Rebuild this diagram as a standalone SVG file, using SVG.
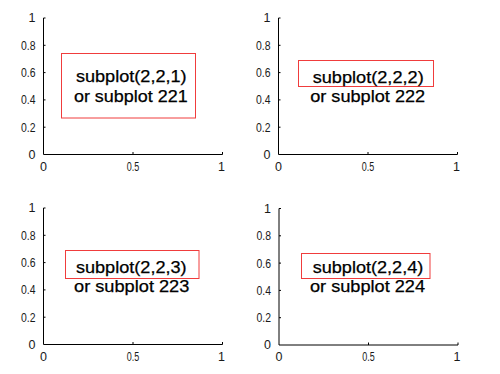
<svg xmlns="http://www.w3.org/2000/svg" width="500" height="374" viewBox="0 0 500 374">
<style>
.ax{fill:none;stroke:#000;stroke-width:1}
.tk{font-family:"Liberation Sans",Arial,sans-serif;font-size:12.5px;fill:#1a1a1a}
.yl{text-anchor:end}
.xl{text-anchor:middle}
.box{fill:none;stroke:#f03c3c;stroke-width:1}
.lb{font-family:"Liberation Sans",Arial,sans-serif;font-size:16px;fill:#000;stroke:#000;stroke-width:0.25;text-anchor:middle}
</style>
<defs>
<g id="axes">
<path class="ax" d="M0,-136.5V0H179"/>
<path class="ax" d="M0,-27.3h2M0,-54.6h2M0,-81.9h2M0,-109.2h2M0,-136.5h2M89.5,0v-2.5M179,0v-2.5"/>
<text class="tk yl" x="-8" y="4.4">0</text>
<text class="tk yl" x="-8" y="-22.9" textLength="14.5" lengthAdjust="spacingAndGlyphs">0.2</text>
<text class="tk yl" x="-8" y="-50.2" textLength="14.5" lengthAdjust="spacingAndGlyphs">0.4</text>
<text class="tk yl" x="-8" y="-77.5" textLength="14.5" lengthAdjust="spacingAndGlyphs">0.6</text>
<text class="tk yl" x="-8" y="-104.8" textLength="14.5" lengthAdjust="spacingAndGlyphs">0.8</text>
<text class="tk yl" x="-8" y="-132.1">1</text>
<text class="tk xl" x="0" y="16">0</text>
<text class="tk xl" x="89.5" y="16" textLength="12.5" lengthAdjust="spacingAndGlyphs">0.5</text>
<text class="tk xl" x="178" y="16">1</text>
</g>
</defs>
<g id="subplot221">
<use href="#axes" transform="translate(43.5,154.5)"/>
<rect class="box" x="61.5" y="53.5" width="134" height="64.5"/>
<text class="lb" x="131.3" y="82" textLength="110.7" lengthAdjust="spacingAndGlyphs">subplot(2,2,1)</text>
<text class="lb" x="130.8" y="102" textLength="113.7" lengthAdjust="spacingAndGlyphs">or subplot 221</text>
</g>
<g id="subplot222">
<use href="#axes" transform="translate(278.5,154.5)"/>
<rect class="box" x="298.5" y="60.5" width="135" height="26"/>
<text class="lb" x="368.2" y="82.5" textLength="111" lengthAdjust="spacingAndGlyphs">subplot(2,2,2)</text>
<text class="lb" x="367.7" y="102" textLength="115" lengthAdjust="spacingAndGlyphs">or subplot 222</text>
</g>
<g id="subplot223">
<use href="#axes" transform="translate(43.5,344.5)"/>
<rect class="box" x="65.5" y="250.5" width="133.5" height="28"/>
<text class="lb" x="131.3" y="272.5" textLength="110.7" lengthAdjust="spacingAndGlyphs">subplot(2,2,3)</text>
<text class="lb" x="131.7" y="292" textLength="115.3" lengthAdjust="spacingAndGlyphs">or subplot 223</text>
</g>
<g id="subplot224">
<use href="#axes" transform="translate(279,345)"/>
<rect class="box" x="301.5" y="253.5" width="128.5" height="25"/>
<text class="lb" x="368" y="272.7" textLength="110.6" lengthAdjust="spacingAndGlyphs">subplot(2,2,4)</text>
<text class="lb" x="367.5" y="292" textLength="115" lengthAdjust="spacingAndGlyphs">or subplot 224</text>
</g>
<g id="connectors"/>
</svg>
